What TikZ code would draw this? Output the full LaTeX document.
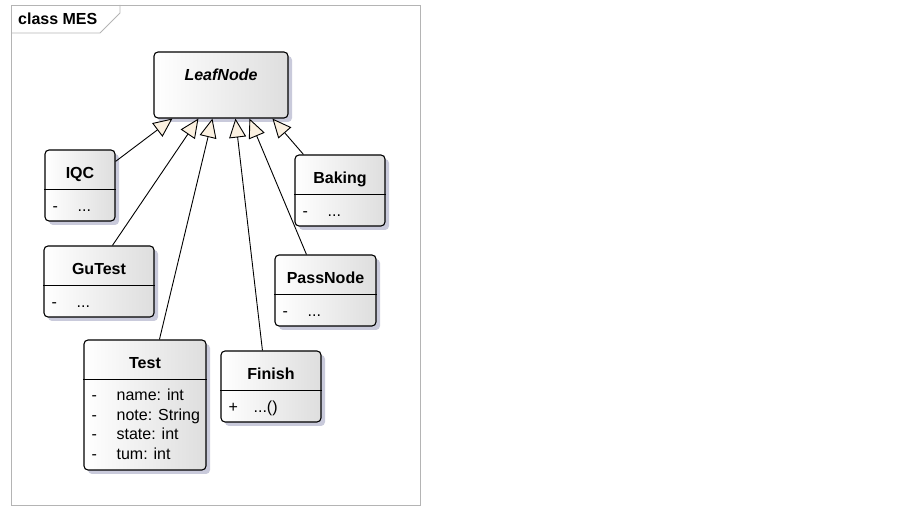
\documentclass[tikz,border=0pt]{standalone}
\usepackage{fontspec}
\setmainfont{Liberation Sans}
\usepackage{tikz}
\usetikzlibrary{arrows.meta,positioning,calc,shadows}
\definecolor{framegray}{HTML}{B4B4B4}
\definecolor{tipfill}{HTML}{FBF1E1}
\definecolor{shadowgray}{HTML}{C9CADB}
\newcommand{\clsdots}{...}

\begin{document}
\begin{tikzpicture}[x=1pt,y=-1pt,font=\fontsize{16}{19}\selectfont]
\tikzstyle{cls}=[draw,line width=1.1pt,rounded corners=4pt,left color=white,right color=black!13,drop shadow={shadow xshift=4pt,shadow yshift=-4pt,fill=shadowgray,opacity=1},inner sep=0pt]
\tikzstyle{ttl}=[font=\fontsize{16}{19}\selectfont\bfseries,inner sep=0pt,anchor=base]
\tikzstyle{attr}=[anchor=base west,inner sep=0pt]
\tikzstyle{inherit}=[line width=0.9pt,-{Triangle[length=19pt,width=17pt,fill=tipfill,line width=0.9pt]}]
\useasboundingbox (0,0) rectangle (903,510);
% diagram frame
\draw[framegray,line width=0.8pt] (11,5) rectangle (420,505);
\draw[framegray,line width=0.8pt] (11,33) -- (100,33) -- (120,13) -- (120,5);
\node[ttl,anchor=base west] (frametitle) at (18,25) {class MES};
% abstract parent
\node[cls,minimum width=134pt,minimum height=66pt] (leaf) at (221,85) {};
\node[ttl] (leaf-t) at ($(leaf.north)+(0,29.5)$) {\itshape LeafNode};
% subclasses
\foreach \n/\x/\y/\w/\h/\t/\m/\a in {iqc/80/185.5/70/71/IQC/-/\clsdots,
    baking/340/190.5/90/71/Baking/-/\clsdots,
    gutest/99/281.5/110/71/GuTest/-/\clsdots,
    passnode/325.5/290.5/101/71/PassNode/-/\clsdots,
    test/145/405/122/130/Test//,
    finish/271/386.5/100/71/Finish/+/\clsdots()}{
    \node[cls,minimum width=\w pt,minimum height=\h pt] (\n) at (\x,\y) {};
    \node[ttl] (\n-t) at ($(\n.north)+(0,29.5)$) {\t};
    \draw[line width=1.1pt] ($(\n.north west)+(0,40)$) -- ($(\n.north east)+(0,40)$);
    \node[attr] (\n-m) at ($(\n.north west)+(8,62)$) {\m};
    \node[attr] (\n-a) at ($(\n.north west)+(33,62)$) {\a};
}
\foreach \i/\a in {0/name: int,1/note: String,2/state: int,3/tum: int}{
    \node[attr] (test-m\i) at ($(test.north west)+(8,61.5+19.5*\i)$) {-};
    \node[attr] (test-a\i) at ($(test.north west)+(33,61.5+19.5*\i)$) {\a};
}
% generalisation arrows
\foreach \n/\s/\dx/\dy/\e in {iqc/north east/0/12/19,
    gutest/north west/69/0/45,
    test/north west/76/0/59,
    finish/north west/42/0/82,
    passnode/north west/32/0/96,
    baking/north west/9/0/119}{
    \draw[inherit] ($(\n.\s)+(\dx,\dy)$) -- ($(leaf.south west)+(\e,0)$);
}
\end{tikzpicture}
\end{document}
